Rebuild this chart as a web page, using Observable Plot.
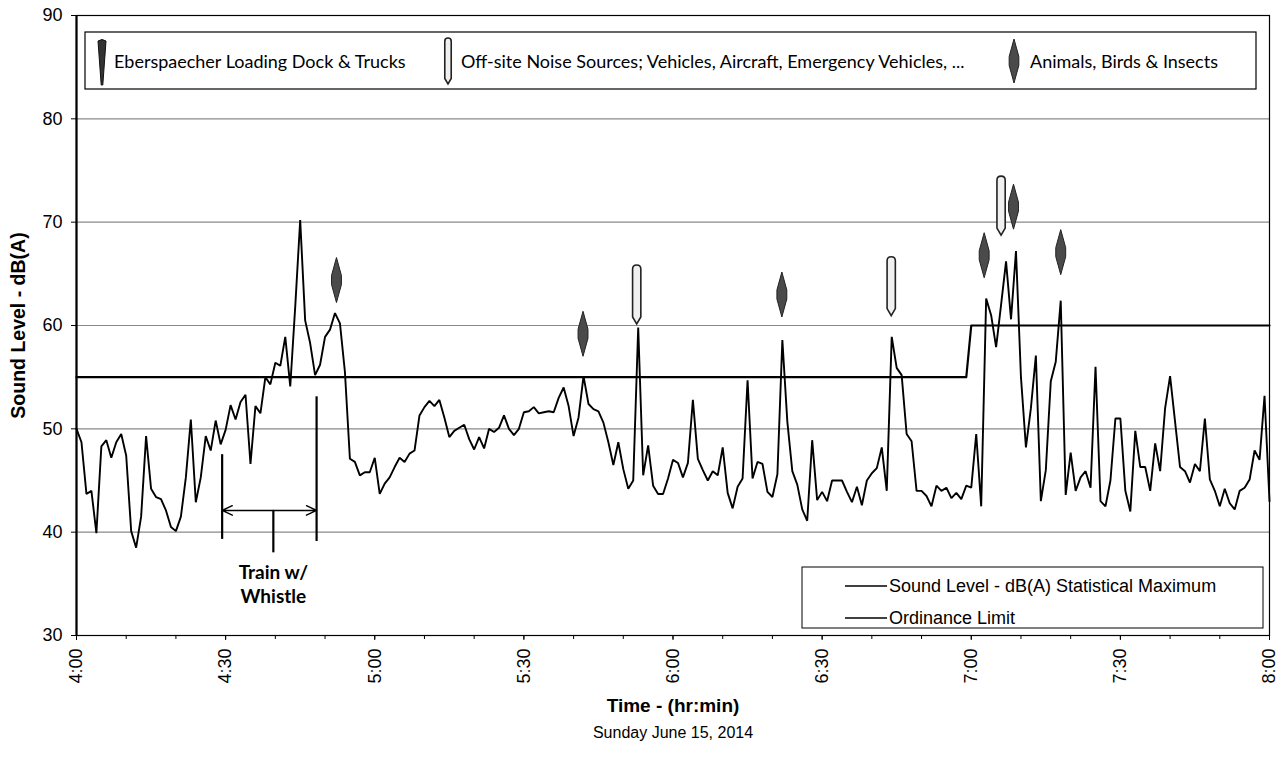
<!DOCTYPE html>
<html><head><meta charset="utf-8">
<script src="https://cdn.jsdelivr.net/npm/d3@7"></script>
<script src="https://cdn.jsdelivr.net/npm/@observablehq/plot@0.6"></script>
<style>
body{margin:0;background:#fff;}
#wrap{position:relative;width:1286px;height:759px;}
#overlay{position:absolute;left:0;top:0;pointer-events:none;}
</style></head><body><div id="wrap"></div>
<script>
// ---- data (one reading per minute, 4:00 -> 8:00) ----
const tickLabels = ["4:00","4:30","5:00","5:30","6:00","6:30","7:00","7:30","8:00"];
const soundLevel = [
 50.0,48.7,43.7,44.0,39.9,48.3,48.9,47.2,48.7,49.5,
 47.4,40.1,38.5,41.5,49.3,44.2,43.4,43.2,42.1,40.5,
 40.1,41.5,45.3,50.9,42.9,45.3,49.3,47.9,50.8,48.5,
 49.9,52.3,50.9,52.6,53.3,46.6,52.2,51.5,55.0,54.3,
 56.4,56.1,58.9,54.1,61.8,70.2,60.5,58.3,55.2,56.2,
 58.9,59.6,61.2,60.2,55.5,47.1,46.8,45.5,45.8,45.8,
 47.2,43.7,44.7,45.3,46.3,47.2,46.8,47.6,47.9,51.3,
 52.1,52.7,52.2,52.8,51.1,49.2,49.8,50.1,50.4,49.0,
 48.0,49.2,48.1,50.0,49.7,50.1,51.3,50.0,49.4,50.0,
 51.6,51.7,52.1,51.5,51.6,51.7,51.6,53.0,54.0,52.2,
 49.3,51.1,55.1,52.4,51.9,51.7,50.6,48.7,46.5,48.7,
 46.1,44.2,45.0,59.8,45.5,48.4,44.5,43.7,43.7,45.2,
 47.0,46.7,45.3,46.7,52.8,47.1,46.0,45.0,45.9,45.5,
 48.2,43.8,42.3,44.4,45.2,54.7,45.2,46.8,46.6,43.9,
 43.4,45.6,58.6,50.7,45.9,44.6,42.2,41.1,48.9,43.1,
 43.9,43.0,45.0,45.0,45.0,43.9,42.9,44.4,42.6,45.0,
 45.7,46.2,48.2,44.0,58.9,55.9,55.2,49.5,48.8,44.0,
 44.0,43.5,42.5,44.5,44.0,44.3,43.3,43.8,43.2,44.5,
 44.3,49.5,42.5,62.6,61.0,57.9,62.0,66.2,60.6,67.2,
 55.0,48.2,52.0,57.1,43.0,46.0,54.6,56.5,62.4,43.6,
 47.7,44.0,45.3,45.9,44.3,56.0,43.0,42.5,45.0,51.0,
 51.0,44.0,42.0,49.8,46.3,46.3,44.0,48.6,45.9,52.0,
 55.1,50.7,46.3,45.9,44.8,46.6,45.9,51.0,45.1,44.0,
 42.5,44.2,42.8,42.2,44.0,44.3,45.1,47.9,47.0,53.2,
 43.0
];
const limitLevels = [55, 60];          // ordinance limit before / after 7:00
const limitChangeMinute = 180;          // minutes after 4:00
const animalTimes = [52.3, 101.9, 141.9, 182.6, 188.5, 198.0];
const animalLevels = [64.4, 59.2, 63.0, 66.8, 71.5, 67.1];
const offsiteTimes = [112.7, 163.9, 186.0];
const offsiteLevels = [63.0, 63.8, 71.6];
const trainMinutes = [29.3, 39.6, 48.3];
const trainTop = [47.5, 42.1, 53.1];
const trainBottom = [39.3, 38.0, 39.1];
const trainArrowLevel = 42.1;
const legendTop = ["Eberspaecher Loading Dock & Trucks", "Off-site Noise Sources; Vehicles, Aircraft, Emergency Vehicles, ...", "Animals, Birds & Insects"];
const legendBottom = ["Sound Level - dB(A) Statistical Maximum", "Ordinance Limit"];

// ---- derived tables ----
const series = soundLevel.map((v, i) => ({m: i, v}));
const limit = soundLevel.map((_, i) => ({m: i, v: i < limitChangeMinute ? limitLevels[0] : limitLevels[1]}));
const animals = animalTimes.map((m, i) => ({m, v: animalLevels[i]}));
const offsite = offsiteTimes.map((m, i) => ({m, v: offsiteLevels[i]}));
const train = trainMinutes.map((m, i) => ({m, y1: trainBottom[i], y2: trainTop[i]}));

const diamondSymbol = {draw(ctx, size) {
  const r = Math.sqrt(size / Math.PI), w = r * 0.22;
  ctx.moveTo(0, -r); ctx.lineTo(w, -r * 0.2); ctx.lineTo(w, r * 0.2); ctx.lineTo(0, r);
  ctx.lineTo(-w, r * 0.2); ctx.lineTo(-w, -r * 0.2); ctx.closePath();
}};
const pencilSymbol = {draw(ctx, size) {
  const r = Math.sqrt(size / Math.PI), w = r * 0.14;
  ctx.moveTo(-w, -r + w); ctx.quadraticCurveTo(-w, -r, 0, -r); ctx.quadraticCurveTo(w, -r, w, -r + w);
  ctx.lineTo(w, r * 0.76); ctx.lineTo(0, r); ctx.lineTo(-w, r * 0.76); ctx.closePath();
}};

const font = "'Liberation Sans', Arial, sans-serif";
const chart = Plot.plot({
  width: 1286, height: 759,
  marginLeft: 76, marginRight: 17, marginTop: 15, marginBottom: 124,
  x: {domain: [0, 240]},
  y: {domain: [30, 90]},
  style: {fontFamily: font, background: "white", color: "black"},
  marks: [
    Plot.gridY(d3.range(40, 91, 10), {stroke: "#8a8a8a", strokeOpacity: 1, strokeWidth: 1.2}),
    Plot.frame({stroke: "black", strokeWidth: 1.2}),
    Plot.axisY({ticks: d3.range(30, 91, 10), tickSize: 5, tickPadding: 9, fontSize: 18, label: null}),
    Plot.axisX({ticks: d3.range(0, 241, 10), tickSize: 4, tickFormat: () => "", label: null}),
    Plot.axisX({ticks: d3.range(0, 241, 30), tickSize: 5, tickPadding: 8, tickRotate: -90, fontSize: 18,
      tickFormat: d => tickLabels[d / 30], label: null}),
    Plot.ruleX([0], {stroke: "black", strokeWidth: 2.2}),
    Plot.line(limit, {x: "m", y: "v", stroke: "black", strokeWidth: 2.2}),
    Plot.line(series, {x: "m", y: "v", stroke: "black", strokeWidth: 1.9, strokeLinejoin: "miter"}),
    // train annotation
    Plot.ruleX(train, {x: "m", y1: "y1", y2: "y2", stroke: "black", strokeWidth: 2.2}),
    Plot.arrow([{a: trainMinutes[1], b: trainMinutes[0]}, {a: trainMinutes[1], b: trainMinutes[2]}],
      {x1: "a", x2: "b", y1: () => trainArrowLevel, y2: () => trainArrowLevel, stroke: "black", strokeWidth: 1.4, headLength: 12, headAngle: 50}),
    Plot.text(["Train w/\nWhistle"], {x: () => trainMinutes[1], y: () => 37.2, lineAnchor: "top", lineHeight: 1.3,
      fontFamily: "Lato, sans-serif", fontWeight: "bold", fontSize: 19}),
    // source markers
    Plot.dot(animals, {x: "m", y: "v", symbol: diamondSymbol, r: 22.5, fill: "#4a4a4a", stroke: "#222", strokeWidth: 1}),
    Plot.dot(offsite, {x: "m", y: "v", symbol: pencilSymbol, r: 29.5, fill: "#f0f0f0", stroke: "#222", strokeWidth: 1.6}),
    // axis titles
    Plot.text(["Sound Level - dB(A)"], {frameAnchor: "left", rotate: -90, dx: -58, textAnchor: "middle", fontWeight: "bold", fontSize: 19.5}),
    Plot.text(["Time - (hr:min)"], {frameAnchor: "bottom", dy: 76, fontWeight: "bold", fontSize: 19}),
    Plot.text(["Sunday June 15, 2014"], {frameAnchor: "bottom", dy: 102, fontSize: 16})
  ]
});
const wrap = document.getElementById("wrap");
wrap.appendChild(chart);

// ---- legends overlay ----
const ov = d3.select(wrap).append("svg").attr("id", "overlay").attr("width", 1286).attr("height", 759);
// top legend
ov.append("rect").attr("x", 85).attr("y", 32).attr("width", 1171).attr("height", 57)
  .attr("fill", "white").attr("stroke", "black").attr("stroke-width", 1.2);
const symX = [102, 448, 1014], txtX = [114, 461, 1030];
ov.append("path").attr("d", `M${symX[0]-4},41 Q${symX[0]},38 ${symX[0]+4},41 L${symX[0]+0.8},85 L${symX[0]-0.8},85 Z`)
  .attr("fill", "#333").attr("stroke", "#111");
ov.append("path").attr("transform", `translate(${symX[1]},61)`)
  .attr("d", d3.symbol(pencilSymbol, Math.PI * 23 * 23)()).attr("fill", "#f0f0f0").attr("stroke", "#222").attr("stroke-width", 1.6);
ov.append("path").attr("transform", `translate(${symX[2]},61)`)
  .attr("d", d3.symbol(diamondSymbol, Math.PI * 22 * 22)()).attr("fill", "#4a4a4a").attr("stroke", "#222");
legendTop.forEach((t, i) => ov.append("text").attr("x", txtX[i]).attr("y", 62).attr("dy", "0.35em")
  .attr("font-family", "Lato, sans-serif").attr("font-size", 18).text(t));
// bottom legend
ov.append("rect").attr("x", 802).attr("y", 567).attr("width", 461).attr("height", 61)
  .attr("fill", "white").attr("stroke", "black").attr("stroke-width", 1);
legendBottom.forEach((t, i) => {
  const y = 586 + i * 32;
  ov.append("line").attr("x1", 845).attr("x2", 887).attr("y1", y).attr("y2", y).attr("stroke", "black").attr("stroke-width", 1.5);
  ov.append("text").attr("x", 889).attr("y", y).attr("dy", "0.35em").attr("font-family", font).attr("font-size", 18).text(t);
});
</script></body></html>
